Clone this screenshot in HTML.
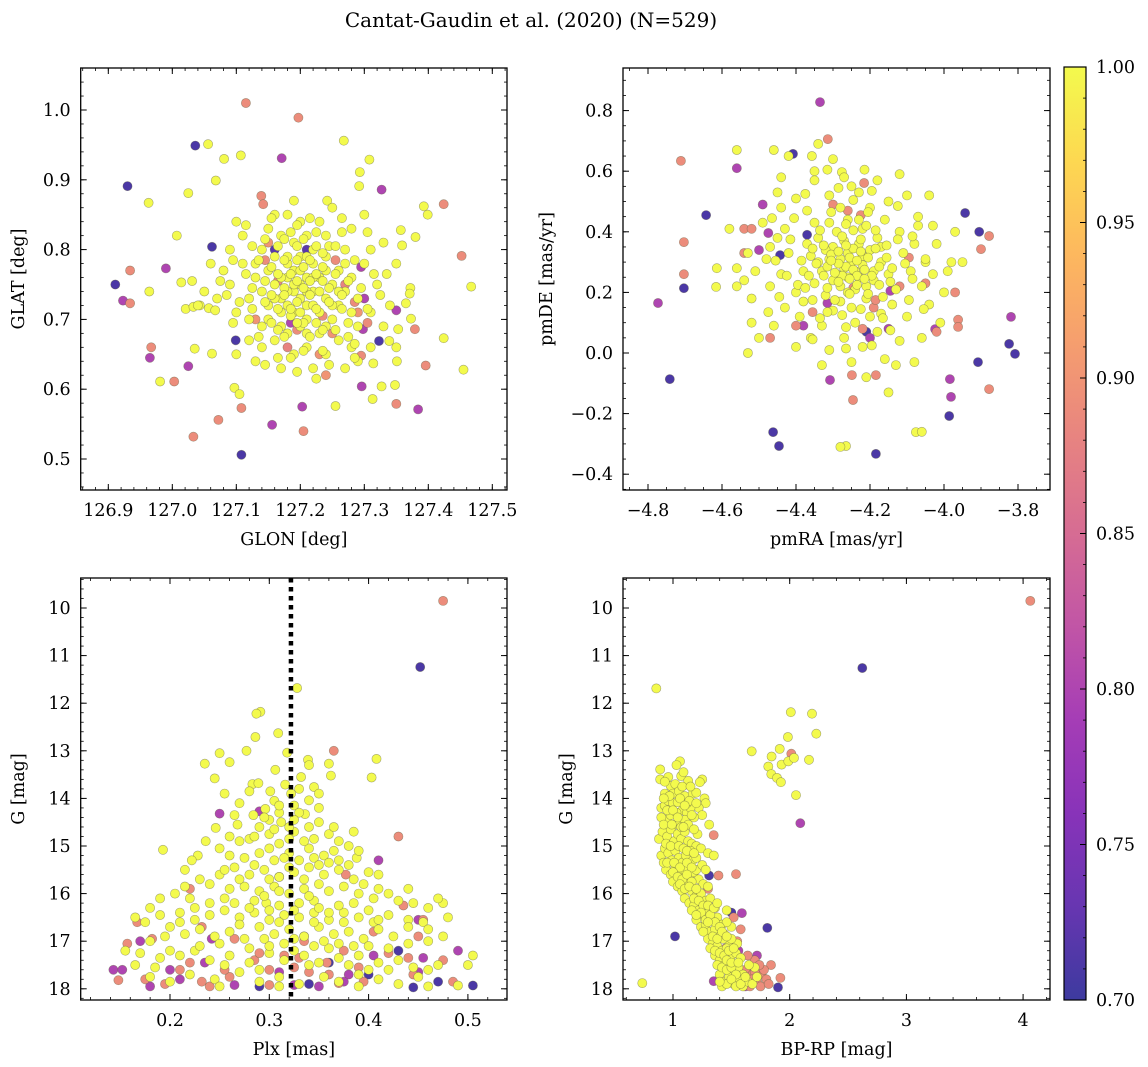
<!DOCTYPE html>
<html><head><meta charset="utf-8"><title>Cantat-Gaudin et al. (2020)</title>
<style>
html,body{margin:0;padding:0;background:#fff;}
svg{display:block;font-family:"DejaVu Serif","Liberation Serif",serif;}
</style></head>
<body>
<svg id="fig" width="1148" height="1067" viewBox="0 0 1148 1067" xmlns="http://www.w3.org/2000/svg">
<defs>
<linearGradient id="cbgrad" x1="0" y1="1" x2="0" y2="0">
<stop offset="0" stop-color="#3d3a9f"/><stop offset="0.1" stop-color="#6736b1"/><stop offset="0.2" stop-color="#8833b9"/><stop offset="0.3" stop-color="#a53db6"/><stop offset="0.4" stop-color="#c155a6"/><stop offset="0.5" stop-color="#d66c93"/><stop offset="0.6" stop-color="#e78381"/><stop offset="0.7" stop-color="#f59d6f"/><stop offset="0.8" stop-color="#fdb85e"/><stop offset="0.9" stop-color="#fdd851"/><stop offset="1" stop-color="#f3fa4d"/>
</linearGradient>
</defs>
<text x="531" y="27" font-size="20" text-anchor="middle">Cantat-Gaudin et al. (2020) (N=529)</text>
</svg>
<script>
// ---------- data (triples: x value, y value, membership probability) ----------
const posData = [
[127.115,1.010,0.89],[127.197,0.989,0.89],[127.139,0.877,0.89],[127.142,0.865,0.89],[127.424,0.865,0.89],[127.452,0.791,0.89],[126.934,0.770,0.89],[126.934,0.723,0.89],[127.379,0.686,0.89],[127.396,0.634,0.89],[127.295,0.648,0.89],[127.350,0.579,0.89],[127.205,0.540,0.89],[126.967,0.660,0.89],[127.003,0.611,0.89],[127.108,0.573,0.89],[127.072,0.556,0.89],[127.033,0.532,0.89],
[127.15,0.81,0.9],[127.27,0.75,0.88],[127.25,0.68,0.9],[127.18,0.66,0.88],[127.29,0.71,0.9],[127.13,0.70,0.9],[127.24,0.62,0.9],[127.30,0.73,0.8],[127.16,0.80,0.72],[127.21,0.80,0.72],[127.23,0.65,0.9],
[127.255,0.785,0.89],[127.165,0.755,0.89],[127.195,0.685,0.89],[127.285,0.725,0.89],[127.235,0.705,0.89],[127.145,0.785,0.89],[127.305,0.695,0.89],[127.295,0.775,0.8],[127.185,0.695,0.8],
[127.171,0.931,0.8],[127.327,0.886,0.8],[126.990,0.773,0.8],[126.923,0.727,0.8],[127.350,0.713,0.8],[127.298,0.686,0.8],[127.296,0.604,0.8],[127.384,0.571,0.8],[127.203,0.575,0.8],[127.156,0.549,0.8],[126.965,0.645,0.8],[127.025,0.633,0.8],
[127.036,0.949,0.71],[126.930,0.891,0.71],[127.062,0.804,0.71],[126.911,0.750,0.71],[127.323,0.669,0.71],[127.099,0.670,0.71],[127.108,0.506,0.71],
[127.056,0.951,1],[127.081,0.930,1],[127.107,0.935,1],[127.268,0.956,1],[127.308,0.929,1],[127.293,0.911,1],[127.292,0.891,1],[127.068,0.899,1],[127.025,0.881,1],[126.963,0.867,1],[127.242,0.870,1],[127.393,0.862,1],[127.399,0.850,1],[127.007,0.820,1],[127.357,0.828,1],[127.380,0.818,1],[127.359,0.806,1],[126.964,0.740,1],[127.467,0.747,1],[127.014,0.753,1],[127.031,0.755,1],[127.365,0.723,1],[127.372,0.745,1],[127.371,0.737,1],[127.373,0.701,1],[127.353,0.686,1],[127.424,0.673,1],[127.455,0.628,1],[127.339,0.669,1],[127.314,0.637,1],[127.351,0.640,1],[127.327,0.604,1],[127.348,0.606,1],[127.313,0.586,1],[127.255,0.576,1],[126.981,0.611,1],[127.035,0.658,1],[127.062,0.651,1],[127.097,0.602,1],[127.105,0.593,1],[127.021,0.715,1],[127.033,0.718,1],[127.043,0.720,1],[127.057,0.716,1],[127.067,0.713,1],
[127.20,0.75,1],[127.21,0.76,1],[127.19,0.74,1],[127.22,0.74,1],[127.18,0.76,1],[127.23,0.76,1],[127.20,0.73,1],[127.21,0.72,1],[127.17,0.73,1],[127.24,0.73,1],[127.19,0.77,1],[127.22,0.78,1],[127.18,0.78,1],[127.25,0.75,1],[127.16,0.75,1],[127.20,0.79,1],[127.23,0.71,1],[127.19,0.71,1],[127.26,0.77,1],[127.15,0.77,1],[127.21,0.70,1],[127.17,0.71,1],[127.24,0.79,1],[127.16,0.79,1],[127.27,0.74,1],[127.14,0.74,1],[127.22,0.80,1],[127.19,0.81,1],[127.25,0.70,1],[127.15,0.72,1],[127.28,0.76,1],[127.13,0.76,1],[127.20,0.69,1],[127.18,0.68,1],[127.23,0.68,1],[127.26,0.72,1],[127.29,0.73,1],[127.12,0.73,1],[127.21,0.82,1],[127.17,0.82,1],[127.24,0.82,1],[127.14,0.80,1],[127.27,0.80,1],[127.30,0.78,1],[127.11,0.78,1],[127.26,0.67,1],[127.16,0.67,1],[127.21,0.66,1],[127.19,0.65,1],[127.24,0.65,1],[127.29,0.69,1],[127.12,0.70,1],[127.10,0.71,1],[127.31,0.71,1],[127.20,0.84,1],[127.18,0.85,1],[127.23,0.84,1],[127.28,0.83,1],[127.15,0.83,1],[127.31,0.80,1],[127.32,0.75,1],[127.09,0.75,1],[127.08,0.77,1],[127.28,0.66,1],[127.14,0.66,1],[127.22,0.63,1],[127.17,0.63,1],[127.27,0.63,1],[127.13,0.64,1],[127.31,0.66,1],[127.33,0.69,1],[127.07,0.73,1],[127.06,0.78,1],[127.11,0.82,1],[127.33,0.81,1],[127.35,0.78,1],[127.18,0.72,1],[127.22,0.72,1],[127.20,0.77,1],[127.19,0.75,1],[127.21,0.74,1],[127.22,0.76,1],[127.18,0.74,1],[127.20,0.71,1],[127.23,0.74,1],[127.17,0.76,1],[127.24,0.77,1],[127.16,0.73,1],[127.25,0.72,1],[127.15,0.70,1],[127.26,0.74,1],[127.18,0.79,1],[127.21,0.79,1],[127.24,0.69,1],[127.17,0.69,1],[127.13,0.78,1],[127.27,0.78,1],[127.09,0.80,1],[127.12,0.67,1],[127.29,0.64,1],[127.25,0.86,1],[127.19,0.87,1],[127.16,0.85,1],[127.30,0.85,1],[127.05,0.74,1],[127.04,0.72,1],[127.10,0.65,1],[127.34,0.72,1],[127.35,0.66,1],[127.10,0.84,1],[127.21,0.68,1],[127.14,0.69,1],[127.28,0.71,1],
[127.195,0.755,1],[127.205,0.745,1],[127.185,0.765,1],[127.215,0.735,1],[127.225,0.765,1],[127.175,0.745,1],[127.235,0.755,1],[127.165,0.765,1],[127.205,0.775,1],[127.195,0.725,1],[127.215,0.785,1],[127.185,0.705,1],[127.245,0.745,1],[127.155,0.735,1],[127.225,0.715,1],[127.175,0.785,1],[127.235,0.795,1],[127.165,0.715,1],[127.255,0.765,1],[127.145,0.755,1],[127.205,0.695,1],[127.195,0.805,1],[127.215,0.675,1],[127.185,0.825,1],[127.265,0.715,1],[127.135,0.785,1],[127.275,0.755,1],[127.125,0.745,1],[127.245,0.805,1],[127.155,0.695,1],[127.255,0.685,1],[127.165,0.805,1],[127.225,0.825,1],[127.175,0.675,1],[127.285,0.785,1],[127.115,0.765,1],[127.295,0.745,1],[127.105,0.725,1],[127.265,0.825,1],[127.145,0.815,1],[127.235,0.655,1],[127.185,0.645,1],[127.275,0.695,1],[127.135,0.675,1],[127.305,0.715,1],[127.095,0.785,1],[127.215,0.845,1],[127.195,0.835,1],[127.245,0.635,1],[127.165,0.645,1],[127.285,0.665,1],[127.125,0.805,1],[127.315,0.765,1],[127.085,0.735,1],[127.205,0.655,1],[127.225,0.695,1],[127.175,0.735,1],[127.235,0.775,1],[127.195,0.785,1],[127.215,0.755,1],[127.185,0.715,1],[127.245,0.725,1],[127.155,0.775,1],[127.265,0.735,1],[127.145,0.725,1],[127.255,0.805,1],[127.175,0.815,1],[127.205,0.815,1],[127.225,0.805,1],[127.195,0.695,1],[127.235,0.685,1],[127.165,0.685,1],[127.275,0.675,1],[127.125,0.715,1],[127.305,0.825,1],[127.115,0.835,1],[127.325,0.735,1],[127.095,0.695,1],[127.285,0.645,1],[127.145,0.635,1],[127.265,0.845,1],[127.155,0.845,1],[127.335,0.765,1],[127.075,0.755,1],[127.225,0.615,1],[127.195,0.625,1]
];
const pmData = [
[-4.711,0.634,0.89],[-4.314,0.706,0.89],[-4.216,0.561,0.89],[-4.703,0.366,0.89],[-4.703,0.26,0.89],[-3.878,0.386,0.89],[-3.90,0.343,0.89],[-4.246,-0.155,0.89],[-4.249,-0.073,0.89],[-4.184,-0.073,0.89],[-3.97,0.20,0.89],[-3.962,0.11,0.89],[-3.962,0.086,0.89],[-4.54,0.41,0.89],[-4.52,0.41,0.89],[-4.54,0.33,0.89],[-4.47,0.05,0.89],[-3.878,-0.119,0.89],[-4.19,0.15,0.89],[-4.12,0.22,0.89],[-4.30,0.49,0.89],[-4.22,0.08,0.89],[-4.02,0.07,0.89],[-4.26,0.47,0.89],[-4.05,0.23,0.89],[-4.4,0.09,0.89],
[-4.245,0.215,0.89],[-4.185,0.175,0.89],[-4.355,0.135,0.89],[-4.095,0.315,0.89],[-4.225,0.455,0.89],[-4.145,0.205,0.8],[-4.315,0.165,0.8],
[-4.335,0.828,0.8],[-4.56,0.61,0.8],[-4.773,0.165,0.8],[-3.819,0.119,0.8],[-3.984,-0.086,0.8],[-3.981,-0.145,0.8],[-4.308,-0.089,0.8],[-4.475,0.396,0.8],[-4.5,0.34,0.8],[-4.38,0.09,0.8],[-4.024,0.079,0.8],[-4.49,0.49,0.8],[-4.15,0.08,0.8],[-4.2,0.05,0.8],
[-4.408,0.657,0.71],[-4.643,0.455,0.71],[-4.703,0.214,0.71],[-4.741,-0.086,0.71],[-3.943,0.462,0.71],[-3.905,0.40,0.71],[-3.824,0.03,0.71],[-3.808,-0.003,0.71],[-3.908,-0.03,0.71],[-3.986,-0.208,0.71],[-4.184,-0.333,0.71],[-4.462,-0.261,0.71],[-4.446,-0.307,0.71],[-4.443,0.323,0.71],[-4.37,0.39,0.71],[-4.21,0.07,0.71],
[-4.56,0.67,1],[-4.357,0.65,1],[-4.276,0.597,1],[-4.614,0.28,1],[-4.616,0.218,1],[-4.076,-0.261,1],[-4.265,-0.307,1],[-4.34,0.69,1],[-4.45,0.53,1],[-4.58,0.41,1],[-4.05,0.3,1],[-4.03,0.42,1],[-3.95,0.30,1],
[-4.27,0.28,1],[-4.25,0.30,1],[-4.29,0.26,1],[-4.23,0.25,1],[-4.31,0.31,1],[-4.26,0.33,1],[-4.22,0.29,1],[-4.33,0.27,1],[-4.28,0.22,1],[-4.24,0.21,1],[-4.30,0.35,1],[-4.20,0.34,1],[-4.35,0.23,1],[-4.19,0.24,1],[-4.27,0.37,1],[-4.32,0.19,1],[-4.21,0.18,1],[-4.36,0.32,1],[-4.17,0.30,1],[-4.25,0.15,1],[-4.29,0.40,1],[-4.22,0.41,1],[-4.38,0.27,1],[-4.15,0.26,1],[-4.34,0.38,1],[-4.18,0.38,1],[-4.30,0.14,1],[-4.20,0.12,1],[-4.40,0.20,1],[-4.13,0.21,1],[-4.26,0.44,1],[-4.35,0.43,1],[-4.16,0.44,1],[-4.42,0.33,1],[-4.11,0.33,1],[-4.24,0.10,1],[-4.33,0.09,1],[-4.14,0.16,1],[-4.39,0.12,1],[-4.44,0.26,1],[-4.09,0.27,1],[-4.28,0.48,1],[-4.20,0.48,1],[-4.37,0.47,1],[-4.12,0.40,1],[-4.45,0.38,1],[-4.08,0.36,1],[-4.27,0.05,1],[-4.18,0.07,1],[-4.36,0.05,1],[-4.10,0.12,1],[-4.43,0.15,1],[-4.47,0.22,1],[-4.06,0.22,1],[-4.31,0.52,1],[-4.23,0.53,1],[-4.15,0.50,1],[-4.40,0.51,1],[-4.48,0.31,1],[-4.05,0.31,1],[-4.04,0.16,1],[-4.46,0.09,1],[-4.22,0.02,1],[-4.31,0.01,1],[-4.12,0.04,1],[-4.40,0.02,1],[-4.07,0.42,1],[-4.49,0.43,1],[-4.27,0.58,1],[-4.18,0.57,1],[-4.35,0.57,1],[-4.10,0.52,1],[-4.02,0.36,1],[-4.03,0.26,1],[-4.51,0.27,1],[-4.52,0.18,1],[-4.01,0.10,1],[-4.50,0.05,1],[-4.25,-0.03,1],[-4.16,-0.02,1],[-4.33,-0.04,1],[-4.06,0.05,1],[-4.44,0.48,1],[-4.12,0.59,1],[-4.00,0.20,1],[-4.26,0.25,1],[-4.24,0.27,1],[-4.28,0.31,1],[-4.22,0.32,1],[-4.30,0.24,1],[-4.26,0.20,1],[-4.23,0.36,1],[-4.32,0.34,1],[-4.19,0.27,1],[-4.34,0.30,1],[-4.21,0.22,1],[-4.28,0.17,1],[-4.17,0.35,1],[-4.37,0.36,1],[-4.31,0.43,1],[-4.23,0.44,1],[-4.14,0.28,1],[-4.38,0.17,1],[-4.17,0.13,1],[-4.47,0.35,1],[-4.54,0.24,1],[-4.53,0.33,1],[-4.43,0.41,1],[-4.21,-0.08,1],[-4.13,-0.04,1],[-4.08,-0.03,1],[-4.56,0.28,1],[-4.56,0.22,1],[-4.52,0.10,1],[-4.53,0.00,1],[-3.98,0.30,1],[-3.97,0.40,1],[-3.99,0.27,1],[-4.04,0.52,1],[-4.42,0.65,1],[-4.35,0.60,1],[-4.30,0.64,1],[-4.46,0.67,1],[-4.07,0.45,1],[-4.15,-0.13,1],[-4.06,-0.26,1],[-4.28,-0.31,1],[-4.21,0.42,1],[-4.25,0.55,1],[-4.44,0.58,1],
[-4.265,0.285,1],[-4.245,0.275,1],[-4.285,0.295,1],[-4.255,0.315,1],[-4.275,0.255,1],[-4.235,0.305,1],[-4.295,0.265,1],[-4.215,0.275,1],[-4.315,0.285,1],[-4.245,0.345,1],[-4.285,0.235,1],[-4.205,0.315,1],[-4.325,0.255,1],[-4.265,0.355,1],[-4.235,0.225,1],[-4.305,0.325,1],[-4.195,0.255,1],[-4.345,0.295,1],[-4.255,0.195,1],[-4.275,0.385,1],[-4.225,0.375,1],[-4.315,0.215,1],[-4.185,0.345,1],[-4.355,0.345,1],[-4.245,0.405,1],[-4.295,0.175,1],[-4.205,0.195,1],[-4.365,0.255,1],[-4.175,0.285,1],[-4.265,0.425,1],[-4.335,0.405,1],[-4.185,0.405,1],[-4.385,0.305,1],[-4.155,0.315,1],[-4.225,0.145,1],[-4.315,0.135,1],[-4.395,0.225,1],[-4.145,0.235,1],[-4.275,0.125,1],[-4.205,0.465,1],[-4.305,0.465,1],[-4.415,0.375,1],[-4.125,0.375,1],[-4.165,0.185,1],[-4.355,0.175,1],[-4.245,0.505,1],[-4.425,0.255,1],[-4.105,0.295,1],[-4.335,0.115,1],[-4.165,0.115,1],[-4.265,0.085,1],[-4.285,0.545,1],[-4.195,0.535,1],[-4.375,0.525,1],[-4.455,0.305,1],[-4.085,0.245,1],[-4.095,0.175,1],[-4.445,0.185,1],[-4.355,0.045,1],[-4.195,0.025,1],[-4.265,0.015,1],[-4.085,0.385,1],[-4.465,0.445,1],[-4.215,0.605,1],[-4.315,0.605,1],[-4.125,0.485,1],[-4.405,0.445,1],[-4.055,0.145,1],[-4.475,0.135,1],[-4.145,0.075,1],[-4.235,0.255,1],[-4.255,0.245,1],[-4.305,0.305,1],[-4.225,0.335,1],[-4.285,0.335,1],[-4.215,0.245,1],[-4.325,0.355,1],[-4.175,0.225,1],[-4.375,0.215,1],[-4.155,0.355,1]
];
const plxData = [
[0.167,16.6,0.89],[0.182,16.95,0.89],[0.157,17.05,0.89],[0.21,17.6,0.89],[0.232,17.85,0.89],[0.175,17.8,0.89],[0.148,17.82,0.89],[0.26,17.75,0.89],[0.285,17.4,0.89],[0.30,17.6,0.89],[0.315,17.3,0.89],[0.325,17.55,0.89],[0.34,17.65,0.89],[0.358,17.45,0.89],[0.375,17.2,0.89],[0.39,17.55,0.89],[0.42,17.25,0.89],[0.445,17.7,0.89],[0.475,17.4,0.89],[0.485,17.85,0.89],[0.232,16.7,0.89],[0.265,16.95,0.89],[0.435,16.25,0.89],[0.455,16.55,0.89],[0.37,17.88,0.89],[0.30,17.92,0.89],[0.24,17.95,0.89],[0.405,16.8,0.89],[0.22,15.9,0.89],[0.377,15.6,0.89],[0.43,14.8,0.89],[0.365,13.0,0.89],[0.475,9.85,0.89],[0.45,16.9,0.89],[0.195,17.9,0.89],[0.335,17.0,0.89],
[0.29,17.25,0.89],[0.22,17.45,0.89],[0.36,17.7,0.89],[0.44,17.35,0.89],[0.395,17.85,0.89],[0.33,17.35,0.89],[0.255,17.6,0.89],[0.2,17.6,0.8],[0.38,17.7,0.8],[0.47,17.85,0.71],
[0.143,17.6,0.8],[0.152,17.6,0.8],[0.18,17.95,0.8],[0.21,17.8,0.8],[0.235,17.45,0.8],[0.242,16.95,0.8],[0.265,17.92,0.8],[0.31,17.65,0.8],[0.325,17.92,0.8],[0.375,17.85,0.8],[0.405,17.3,0.8],[0.45,17.65,0.8],[0.455,17.35,0.8],[0.49,17.2,0.8],[0.45,16.55,0.8],[0.29,14.27,0.8],[0.25,14.32,0.8],[0.41,15.3,0.8],[0.17,17.0,0.8],[0.35,17.95,0.8],
[0.452,11.24,0.71],[0.505,17.93,0.71],[0.445,17.97,0.71],[0.40,17.7,0.71],[0.36,17.45,0.71],[0.34,17.9,0.71],[0.335,16.9,0.71],[0.31,15.65,0.71],[0.43,17.2,0.71],[0.29,17.95,0.71],
[0.328,11.68,1],[0.291,12.18,1],[0.287,12.22,1],[0.286,12.71,1],[0.309,12.63,1],[0.260,13.24,1],[0.250,13.05,1],[0.235,13.27,1],[0.245,13.58,1],[0.277,13.00,1],[0.306,13.4,1],[0.318,13.04,1],[0.332,13.55,1],[0.339,13.19,1],[0.362,13.52,1],[0.360,13.27,1],[0.408,13.17,1],[0.403,13.56,1],[0.283,13.7,1],[0.289,13.68,1],[0.301,13.85,1],[0.316,13.71,1],[0.322,13.9,1],[0.345,13.76,1],[0.350,13.9,1],[0.340,14.04,1],[0.325,14.15,1],[0.305,14.05,1],[0.296,14.22,1],[0.310,14.3,1],[0.270,14.1,1],[0.284,14.35,1],[0.336,14.33,1],[0.350,14.5,1],[0.312,14.5,1],[0.290,14.6,1],[0.268,14.55,1],[0.260,14.8,1],[0.246,14.62,1],[0.236,14.9,1],[0.25,15.05,1],[0.228,15.2,1],[0.222,15.3,1],[0.193,15.08,1],[0.28,14.85,1],[0.30,14.75,1],[0.31,14.95,1],[0.325,14.7,1],[0.345,14.85,1],[0.36,14.75,1],[0.365,14.6,1],[0.37,14.9,1],[0.38,15.0,1],[0.388,15.25,1],[0.39,15.1,1],[0.37,15.3,1],[0.355,15.2,1],[0.34,15.05,1],[0.33,15.3,1],[0.32,15.15,1],[0.305,15.3,1],[0.29,15.15,1],[0.275,15.25,1],[0.265,15.45,1],[0.28,15.6,1],[0.295,15.5,1],[0.31,15.65,1],[0.325,15.55,1],[0.34,15.45,1],[0.355,15.6,1],[0.37,15.5,1],[0.385,15.7,1],[0.40,15.55,1],[0.41,15.6,1],[0.25,15.6,1],[0.24,15.8,1],[0.23,15.7,1],[0.215,15.85,1],[0.205,16.0,1],[0.26,15.9,1],[0.275,15.85,1],[0.29,15.95,1],[0.305,15.85,1],[0.32,16.0,1],[0.335,15.9,1],[0.35,15.8,1],[0.36,15.95,1],[0.375,15.85,1],[0.39,16.0,1],[0.405,16.1,1],[0.42,16.0,1],[0.43,16.15,1],[0.445,16.2,1],[0.46,16.3,1],[0.475,16.2,1],[0.18,16.3,1],[0.165,16.5,1],[0.19,16.45,1],[0.21,16.4,1],[0.225,16.3,1],[0.24,16.45,1],[0.255,16.35,1],[0.27,16.5,1],[0.285,16.4,1],[0.30,16.55,1],[0.315,16.45,1],[0.33,16.5,1],[0.345,16.4,1],[0.36,16.55,1],[0.375,16.4,1],[0.39,16.5,1],[0.405,16.6,1],[0.42,16.45,1],[0.44,16.55,1],[0.455,16.6,1],[0.2,16.7,1],[0.215,16.85,1],[0.23,16.75,1],[0.245,16.9,1],[0.26,16.8,1],[0.275,16.95,1],[0.29,16.7,1],[0.305,16.85,1],[0.32,16.75,1],[0.335,16.9,1],[0.35,16.7,1],[0.365,16.85,1],[0.38,16.8,1],[0.395,16.95,1],[0.41,16.75,1],[0.425,16.9,1],[0.44,17.05,1],[0.46,17.0,1],[0.475,16.9,1],[0.155,17.2,1],[0.17,17.25,1],[0.19,17.35,1],[0.21,17.3,1],[0.225,17.2,1],[0.24,17.4,1],[0.26,17.3,1],[0.28,17.45,1],[0.30,17.25,1],[0.315,17.4,1],[0.335,17.3,1],[0.35,17.45,1],[0.37,17.35,1],[0.39,17.3,1],[0.41,17.45,1],[0.43,17.4,1],[0.445,17.55,1],[0.47,17.5,1],[0.505,17.3,1],[0.18,17.75,1],[0.2,17.85,1],[0.22,17.7,1],[0.245,17.8,1],[0.27,17.65,1],[0.29,17.85,1],[0.31,17.75,1],[0.33,17.9,1],[0.355,17.75,1],[0.37,17.85,1],[0.39,17.7,1],[0.41,17.8,1],[0.43,17.9,1],[0.45,17.75,1],[0.49,17.93,1],[0.297,16.2,1],[0.31,16.25,1],[0.33,16.2,1],[0.285,16.15,1],[0.345,16.15,1],[0.35,16.3,1],[0.265,16.2,1],[0.37,16.25,1],[0.315,17.05,1],[0.30,17.1,1],[0.345,17.1,1],[0.36,17.15,1],[0.28,17.15,1],[0.385,17.1,1],[0.18,17.0,1],[0.3,14.45,1],[0.32,14.6,1],[0.33,14.3,1],
[0.31,14.15,1],[0.325,14.45,1],[0.295,14.4,1],[0.34,14.6,1],[0.305,14.65,1],[0.285,14.8,1],[0.335,14.9,1],[0.32,14.85,1],[0.3,15.05,1],[0.315,15.25,1],[0.345,15.25,1],[0.285,15.4,1],[0.35,15.4,1],[0.32,15.45,1],[0.3,15.7,1],[0.335,15.7,1],[0.36,15.35,1],[0.27,15.7,1],[0.255,15.5,1],[0.38,15.4,1],[0.395,15.8,1],[0.31,15.95,1],[0.34,16.05,1],[0.295,16.05,1],[0.28,16.3,1],[0.325,16.35,1],[0.36,16.4,1],[0.255,16.1,1],[0.24,16.2,1],[0.385,16.2,1],[0.4,16.35,1],[0.3,16.35,1],[0.31,16.6,1],[0.345,16.6,1],[0.27,16.65,1],[0.375,16.6,1],[0.41,16.55,1],[0.225,16.55,1],[0.21,16.6,1],[0.325,16.95,1],[0.355,17.0,1],[0.295,16.95,1],[0.25,17.05,1],[0.37,17.05,1],[0.4,17.1,1],[0.42,17.15,1],[0.44,16.7,1],[0.46,16.75,1],[0.47,16.1,1],[0.195,16.9,1],[0.2,17.2,1],[0.23,17.1,1],[0.255,17.5,1],[0.325,17.2,1],[0.34,17.5,1],[0.38,17.5,1],[0.29,17.6,1],[0.4,17.6,1],[0.42,17.6,1],[0.46,17.6,1],[0.165,17.5,1],[0.185,17.55,1],[0.25,17.95,1],[0.31,17.95,1],[0.39,17.95,1],[0.46,17.95,1],[0.27,14.9,1],[0.26,15.2,1],[0.35,14.2,1],[0.365,15.1,1],[0.265,14.35,1],[0.385,14.7,1],[0.215,15.5,1],[0.41,15.9,1],[0.44,15.9,1],[0.22,16.1,1],[0.19,16.1,1],[0.175,16.6,1],[0.48,16.5,1],[0.5,17.5,1],[0.28,13.85,1],[0.34,13.3,1],[0.255,13.9,1],[0.33,13.8,1]
];
const cmdData = [
[4.062,9.85,0.89],[1.349,14.77,0.89],[1.54,15.59,0.89],[1.92,17.77,0.89],[1.62,17.6,0.89],[1.68,17.7,0.89],[1.72,17.85,0.89],[1.76,17.7,0.89],[1.8,17.8,0.89],[1.66,17.95,0.89],[1.75,17.95,0.89],[1.84,17.5,0.89],[1.82,17.9,0.89],[1.7,17.4,0.89],[1.78,17.6,0.89],[1.6,17.85,0.89],[1.39,15.62,0.89],[1.58,16.75,0.89],[1.45,17.15,0.89],[1.52,16.5,0.89],[1.36,16.9,0.89],[1.3,15.9,0.89],[1.64,17.3,0.89],[1.74,17.5,0.89],[1.7,17.65,0.89],[1.55,17.0,0.89],[1.68,17.8,0.89],[2.014,13.06,0.89],
[1.59,16.41,0.8],[1.349,17.84,0.8],[2.091,14.52,0.8],[1.56,17.2,0.8],[1.66,17.6,0.8],[1.62,17.95,0.8],[1.72,17.3,0.8],
[2.622,11.26,0.71],[1.017,16.9,0.71],[1.808,16.72,0.71],[1.90,17.97,0.71],[1.309,15.62,0.71],[1.68,17.55,0.71],[1.62,17.9,0.71],[1.5,16.4,0.71],
[0.857,11.69,1],[2.009,12.19,1],[2.191,12.22,1],[2.228,12.64,1],[1.985,12.71,1],[1.674,13.01,1],[1.914,12.96,1],[1.845,13.12,1],[1.817,13.33,1],[1.842,13.49,1],[1.891,13.57,1],[1.925,13.66,1],[1.931,13.29,1],[1.988,13.22,1],[2.037,13.15,1],[2.165,13.19,1],[2.054,13.93,1],[0.737,17.88,1],
[1.06,13.22,1],[0.89,13.39,1],[0.89,13.6,1],[1.07,13.53,1],[1.13,13.63,1],[1.25,13.6,1],[1.23,13.66,1],[0.98,13.74,1],[1.02,13.7,1],[1.0,13.9,1],[1.05,13.85,1],[1.1,13.95,1],[1.17,13.9,1],[1.2,13.88,1],[1.27,14.0,1],[1.28,14.1,1],[1.22,14.2,1],[1.25,14.35,1],[0.9,14.2,1],[0.93,14.15,1],[0.96,14.05,1],[1.0,14.1,1],[1.04,14.08,1],[1.08,14.25,1],[1.12,14.3,1],[1.15,14.2,1],[1.18,14.4,1],[0.95,14.45,1],[0.98,14.35,1],[1.02,14.55,1],[1.06,14.5,1],[1.1,14.45,1],[0.88,14.85,1],[0.91,14.7,1],[0.95,14.8,1],[0.98,14.65,1],[1.01,14.9,1],[1.04,14.75,1],[1.07,14.85,1],[1.1,14.7,1],[1.13,14.9,1],[1.16,14.95,1],[1.2,15.0,1],[1.24,15.05,1],[1.3,15.15,1],[1.35,15.2,1],[0.9,15.2,1],[0.93,15.05,1],[0.96,15.15,1],[0.99,15.3,1],[1.02,15.1,1],[1.05,15.25,1],[1.08,15.35,1],[1.11,15.2,1],[1.14,15.4,1],[1.17,15.3,1],[1.2,15.25,1],[0.94,15.5,1],[0.98,15.6,1],[1.02,15.45,1],[1.06,15.6,1],[1.1,15.5,1],[1.14,15.65,1],[1.18,15.55,1],[1.22,15.7,1],[1.26,15.8,1],[1.0,15.75,1],[1.04,15.85,1],[1.08,15.95,1],[1.12,15.8,1],[1.16,15.95,1],[1.2,16.05,1],[1.24,16.0,1],[1.28,16.15,1],[1.32,16.1,1],[1.36,16.3,1],[1.1,16.1,1],[1.14,16.2,1],[1.18,16.25,1],[1.22,16.35,1],[1.26,16.45,1],[1.3,16.4,1],[1.34,16.55,1],[1.38,16.5,1],[1.42,16.65,1],[1.2,16.55,1],[1.24,16.7,1],[1.28,16.65,1],[1.32,16.8,1],[1.36,16.75,1],[1.4,16.9,1],[1.44,16.85,1],[1.48,17.0,1],[1.5,16.7,1],[1.46,16.6,1],[1.3,16.95,1],[1.34,17.05,1],[1.38,17.1,1],[1.42,17.2,1],[1.46,17.15,1],[1.5,17.3,1],[1.54,17.25,1],[1.36,17.3,1],[1.4,17.4,1],[1.44,17.5,1],[1.48,17.45,1],[1.52,17.6,1],[1.56,17.55,1],[1.6,17.7,1],[1.4,17.7,1],[1.44,17.85,1],[1.48,17.75,1],[1.52,17.9,1],[1.56,17.8,1],[1.6,17.95,1],[1.64,17.85,1],[1.68,17.9,1],[1.72,17.75,1],[1.7,17.55,1],[1.65,17.5,1],[1.58,17.35,1],[1.55,17.05,1],[1.5,16.95,1],[1.46,16.35,1],[1.43,16.95,1],[1.2,15.5,1],[1.15,15.1,1],[0.92,15.35,1],[1.3,15.85,1],[1.07,14.6,1],[1.12,14.1,1],[1.03,14.3,1],[0.96,13.55,1],
[0.93,13.9,1],[0.97,13.95,1],[1.08,13.75,1],[1.15,13.75,1],[0.92,14.0,1],[1.06,14.0,1],[1.14,14.05,1],[1.2,14.1,1],[0.95,14.25,1],[1.0,14.25,1],[1.1,14.15,1],[1.16,14.35,1],[0.9,14.4,1],[1.04,14.4,1],[1.13,14.55,1],[0.92,14.55,1],[0.99,14.55,1],[1.09,14.6,1],[0.94,14.95,1],[0.98,15.0,1],[1.05,15.0,1],[1.09,15.05,1],[1.12,15.1,1],[1.18,15.15,1],[0.95,15.35,1],[1.01,15.35,1],[1.06,15.45,1],[1.12,15.35,1],[1.16,15.45,1],[1.0,15.55,1],[1.04,15.65,1],[1.08,15.7,1],[1.12,15.6,1],[1.16,15.75,1],[1.06,15.8,1],[1.1,15.9,1],[1.14,15.85,1],[1.2,15.9,1],[1.18,16.1,1],[1.22,16.15,1],[1.26,16.25,1],[1.24,16.4,1],[1.3,16.25,1],[1.16,16.35,1],[1.2,16.45,1],[1.28,16.55,1],[1.32,16.45,1],[1.36,16.6,1],[1.4,16.7,1],[1.26,16.8,1],[1.3,16.6,1],[1.34,16.9,1],[1.38,16.95,1],[1.42,16.8,1],[1.46,16.9,1],[1.32,17.15,1],[1.36,17.2,1],[1.4,17.25,1],[1.44,17.3,1],[1.48,17.2,1],[1.52,17.15,1],[1.38,17.5,1],[1.42,17.55,1],[1.46,17.6,1],[1.5,17.55,1],[1.54,17.7,1],[1.42,17.95,1],[1.46,17.9,1],[1.5,17.8,1],[1.54,17.95,1],[1.58,17.9,1],[1.62,17.75,1],[1.4,17.85,1],[1.46,17.4,1],[1.5,17.45,1],[1.56,17.45,1],[1.35,16.3,1],[1.38,16.2,1],[1.25,15.4,1],[1.28,15.5,1],[1.21,14.75,1],[1.31,14.55,1],[1.18,14.65,1],[1.03,13.3,1],[1.09,13.45,1],[0.93,13.65,1]
];
const plxMean = [0.3218];
// ticks
const glonTicks = [126.9,127.0,127.1,127.2,127.3,127.4,127.5];
const glatTicks = [0.5,0.6,0.7,0.8,0.9,1.0];
const pmraTicks = [-4.8,-4.6,-4.4,-4.2,-4.0,-3.8];
const pmdeTicks = [-0.4,-0.2,0.0,0.2,0.4,0.6,0.8];
const plxTicks = [0.2,0.3,0.4,0.5];
const gTicks = [10,11,12,13,14,15,16,17,18];
const bprpTicks = [1,2,3,4];
const cbTicks = [0.70,0.75,0.80,0.85,0.90,0.95,1.00];

// ---------- helpers ----------
const NS = 'http://www.w3.org/2000/svg';
const svg = document.getElementById('fig');
function mk(tag, attrs, parent){const e=document.createElementNS(NS,tag);for(const k in attrs)e.setAttribute(k,attrs[k]);(parent||svg).appendChild(e);return e;}
function lin(v0,p0,k){return v=>p0+(v-v0)*k;}
const stops=[[0,[13,8,135]],[0.1,[65,4,157]],[0.2,[106,0,168]],[0.3,[143,13,164]],[0.4,[177,42,144]],[0.5,[204,71,120]],[0.6,[225,100,98]],[0.7,[242,132,75]],[0.8,[252,166,54]],[0.9,[252,206,37]],[1,[240,249,33]]];
function pcolor(p){let t=Math.max(0,Math.min(1,(p-0.7)/0.3));let i=0;while(i<stops.length-2&&t>stops[i+1][0])i++;const a=stops[i],b=stops[i+1];const f=(t-a[0])/(b[0]-a[0]);const c=a[1].map((v,j)=>v+(b[1][j]-v)*f);const al=0.8;return 'rgb('+c.map(v=>Math.round(v*al+255*(1-al))).join(',')+')';}
function fmtMinus(s){return s.replace('-','\u2212');}

function panel(cfg){
  const g=mk('g',{});
  
  
  const {x0,x1,y0,y1}=cfg.box;
  const clipId='clip-'+cfg.name;
  const cp=mk('clipPath',{id:clipId},g);mk('rect',{x:x0,y:y0,width:x1-x0,height:y1-y0},cp);
  const pts=mk('g',{'clip-path':'url(#'+clipId+')'},g);
  
  
  const data=cfg.data.slice().sort((a,b)=>a[2]-b[2]);
  data.forEach(d=>{
    const c=mk('circle',{cx:cfg.sx(d[0]).toFixed(1),cy:cfg.sy(d[1]).toFixed(1),r:4.6,fill:pcolor(d[2]),stroke:'rgba(100,100,70,0.55)','stroke-width':0.6},pts);
    
    
  });
  if(cfg.extra)cfg.extra(g);
  const fr=mk('rect',{x:x0,y:y0,width:x1-x0,height:y1-y0,fill:'none',stroke:'#000','stroke-width':1.3},g);
  
  
  const xt=mk('g',{},g);
  
  
  for(let v=cfg.xMinor[0];v<=cfg.xMinor[1]+1e-9;v+=cfg.xMinor[2]){const px=cfg.sx(v);if(px<x0+0.5||px>x1-0.5)continue;mk('line',{x1:px,x2:px,y1:y1,y2:y1-3,stroke:'#000','stroke-width':0.8},xt);mk('line',{x1:px,x2:px,y1:y0,y2:y0+3,stroke:'#000','stroke-width':0.8},xt);}
  cfg.xTicks.forEach(v=>{const px=cfg.sx(v);mk('line',{x1:px,x2:px,y1:y1,y2:y1-6,stroke:'#000','stroke-width':1},xt);mk('line',{x1:px,x2:px,y1:y0,y2:y0+6,stroke:'#000','stroke-width':1},xt);
    const t=mk('text',{x:px,y:y1+26,'font-size':17.5,'text-anchor':'middle'},xt);t.textContent=fmtMinus(v.toFixed(cfg.xDec));
    
    });
  const yt=mk('g',{},g);
  
  
  for(let v=cfg.yMinor[0];v<=cfg.yMinor[1]+1e-9;v+=cfg.yMinor[2]){const py=cfg.sy(v);if(py<y0+0.5||py>y1-0.5)continue;mk('line',{x1:x0,x2:x0+3,y1:py,y2:py,stroke:'#000','stroke-width':0.8},yt);mk('line',{x1:x1,x2:x1-3,y1:py,y2:py,stroke:'#000','stroke-width':0.8},yt);}
  cfg.yTicks.forEach(v=>{const py=cfg.sy(v);mk('line',{x1:x0,x2:x0+6,y1:py,y2:py,stroke:'#000','stroke-width':1},yt);mk('line',{x1:x1,x2:x1-6,y1:py,y2:py,stroke:'#000','stroke-width':1},yt);
    const t=mk('text',{x:x0-10,y:py+6,'font-size':17.5,'text-anchor':'end'},yt);t.textContent=fmtMinus(v.toFixed(cfg.yDec));
    
    });
  const xl=mk('text',{x:(x0+x1)/2,y:y1+55,'font-size':17.5,'text-anchor':'middle'},g);xl.textContent=cfg.xLabel;
  
  
  const yl=mk('text',{x:0,y:0,'font-size':17.5,'text-anchor':'middle',transform:'translate('+cfg.yLabelX+','+((y0+y1)/2)+') rotate(-90)'},g);yl.textContent=cfg.yLabel;
  
  
}

const sG = lin(10,608,47.6);
panel({name:'glon-glat-panel',box:{x0:80.7,x1:507,y0:68,y1:490},data:posData,sx:lin(126.9,108.3,640),sy:lin(1.0,110,-698),
  xTicks:glonTicks,xDec:1,xMinor:[126.86,127.52,0.02],yTicks:glatTicks,yDec:1,yMinor:[0.46,1.06,0.02],xLabel:'GLON [deg]',yLabel:'GLAT [deg]',yLabelX:24});
panel({name:'pm-panel',box:{x0:623,x1:1050,y0:68,y1:490},data:pmData,sx:lin(-4.8,648,370),sy:lin(0,353,-303),
  xTicks:pmraTicks,xDec:1,xMinor:[-4.85,-3.7,0.05],yTicks:pmdeTicks,yDec:1,yMinor:[-0.45,0.95,0.05],xLabel:'pmRA [mas/yr]',yLabel:'pmDE [mas/yr]',yLabelX:552});
panel({name:'plx-g-panel',box:{x0:80.7,x1:507,y0:578,y1:1000},data:plxData,sx:lin(0.2,170,993),sy:sG,
  xTicks:plxTicks,xDec:1,xMinor:[0.12,0.54,0.02],yTicks:gTicks,yDec:0,yMinor:[9.4,18.2,0.2],xLabel:'Plx [mas]',yLabel:'G [mag]',yLabelX:24,
  extra:(g)=>{plxMean.forEach(m=>{const px=lin(0.2,170,993)(m);const l=mk('line',{x1:px,x2:px,y1:578,y2:1000,stroke:'#000','stroke-width':4.5,'stroke-dasharray':'4.5,4.5'},g);
    
    });}});
panel({name:'cmd-panel',box:{x0:623,x1:1050,y0:578,y1:1000},data:cmdData,sx:lin(1,673,116.7),sy:sG,
  xTicks:bprpTicks,xDec:0,xMinor:[0.6,4.2,0.2],yTicks:gTicks,yDec:0,yMinor:[9.4,18.2,0.2],xLabel:'BP-RP [mag]',yLabel:'G [mag]',yLabelX:572});

// ---------- colorbar ----------
const cb=mk('g',{});


const cbY0=67,cbY1=1000,cbX0=1064,cbX1=1086;
const sCb=lin(1.0,cbY0,-(cbY1-cbY0)/0.3);
mk('rect',{x:cbX0,y:cbY0,width:cbX1-cbX0,height:cbY1-cbY0,fill:'url(#cbgrad)',stroke:'#000','stroke-width':1.2},cb);
for(let v=0.70;v<=1.0001;v+=0.01){const py=sCb(v);mk('line',{x1:cbX1,x2:cbX1-3,y1:py,y2:py,stroke:'#000','stroke-width':0.8},cb);}
cbTicks.forEach(v=>{const py=sCb(v);mk('line',{x1:cbX1,x2:cbX1-6,y1:py,y2:py,stroke:'#000','stroke-width':1},cb);
  const t=mk('text',{x:cbX1+10,y:py+6,'font-size':17.5},cb);t.textContent=v.toFixed(2);
  
  });
</script>
</body></html>
